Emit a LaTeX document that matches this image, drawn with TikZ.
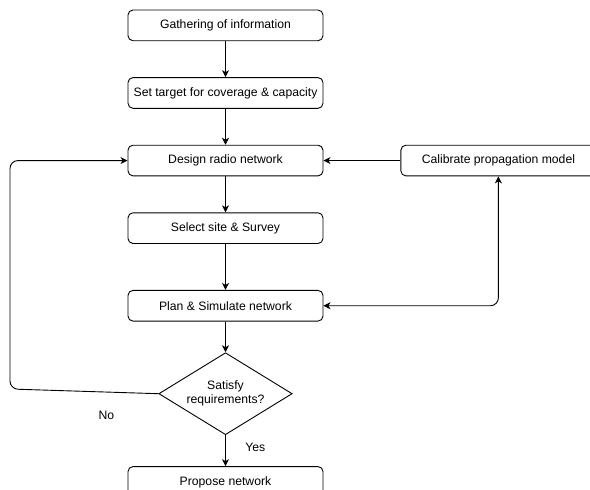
\documentclass[tikz,border=0pt]{standalone}
\usepackage{fontspec}
\setmainfont{Liberation Sans}
\usepackage{tikz}
\usetikzlibrary{arrows.meta, positioning, shapes.geometric}
\tikzset{
  stagebox/.style={
    minimum width=195pt,
    minimum height=30.7pt,
    inner sep=2pt,
    align=center,
    draw=black,
    line width=0.9pt,
    rounded corners=5pt,
    font=\fontsize{12.2pt}{14pt}\selectfont
  },
  check/.style={
    diamond,
    aspect=1.63,
    minimum width=133.4pt,
    minimum height=82pt,
    inner sep=0pt,
    align=center,
    draw=black,
    line width=0.9pt,
    font=\fontsize{12.2pt}{14pt}\selectfont
  },
  answer/.style={
    font=\fontsize{12.2pt}{14pt}\selectfont
  },
  arrow/.style={draw,line width=0.9pt,->,>={Stealth[length=7pt,width=7pt,inset=2pt]}}
}
\begin{document}
\begin{tikzpicture}[x=1pt, y=1pt, node distance=36pt]
    \useasboundingbox (0,0) rectangle (590,-490);
    \node (gather) [stagebox] at (225.5,-25.35) {Gathering of information};
    \node (target) [stagebox, below=of gather] {Set target for coverage \& capacity};
    \node (design) [stagebox, below=of target] {Design radio network};
    \node (calib) [stagebox, right=77pt of design] {Calibrate propagation model};
    \node (select) [stagebox, below=of design] {Select site \& Survey};
    \node (plan) [stagebox, below=46pt of select] {Plan \& Simulate network};
    \node (satisfy) [check, below=30.7pt of plan] {Satisfy\\requirements?};
    \node (propose) [stagebox, below=31pt of satisfy] {Propose network};
    \coordinate (back) at (10,-389);
    \draw [arrow] (gather) -- (target);
    \draw [arrow] (target) -- (design);
    \draw [arrow] (design) -- (select);
    \draw [arrow] (select) -- (plan);
    \draw [arrow] (plan) -- (satisfy);
    \draw [arrow] (satisfy) -- node [answer, right=16pt, pos=0.4] {Yes} (propose);
    \draw [arrow, rounded corners=8pt] (satisfy.west) -- node [answer, below=15pt, pos=0.35] {No} (back) |- (design.west);
    \draw [arrow] (calib) -- (design);
    \draw [arrow, <->, rounded corners=8pt] (plan.east) -| (calib.south);
\end{tikzpicture}
\end{document}
